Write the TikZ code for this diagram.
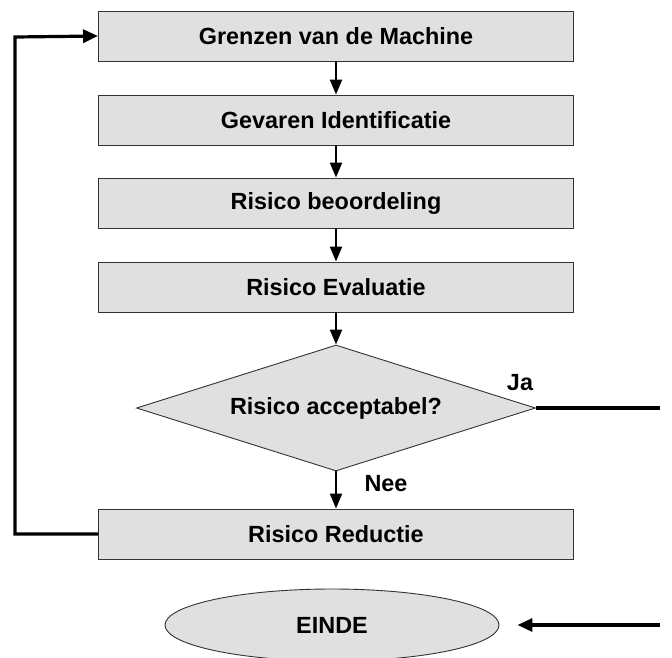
\documentclass[tikz,border=0pt]{standalone}
\usepackage{fontspec}
\setmainfont{Liberation Sans}
\usetikzlibrary{arrows.meta,shapes.geometric}
\definecolor{boxgray}{RGB}{224,224,224}
\begin{document}
\begin{tikzpicture}[x=1pt,y=-1pt,
  txt/.style={font=\bfseries\fontsize{23.4}{27}\selectfont},
  stepbox/.style={txt,draw=black!80,line width=0.9pt,fill=boxgray,minimum width=475pt,minimum height=50pt,inner sep=0pt},
  decide/.style={txt,diamond,draw=black!80,line width=0.9pt,fill=boxgray,minimum width=399pt,minimum height=126pt,inner sep=0pt,aspect=3.17},
  endnode/.style={txt,ellipse,draw=black!80,line width=0.9pt,fill=boxgray,minimum width=334pt,minimum height=72pt,inner sep=0pt},
  lbl/.style={txt},
  flow/.style={line width=2.2pt,-{Triangle[length=15pt,width=12pt]}},
  back/.style={line width=3.2pt,-{Triangle[length=15pt,width=13pt]}},
  plain/.style={line width=3.3pt}]
\useasboundingbox (0,0) rectangle (672,657);
\node[stepbox] (b1) at (336,36) {Grenzen van de Machine};
\node[stepbox] (b2) at (336,120) {Gevaren Identificatie};
\node[stepbox] (b3) at (336,203) {Risico beoordeling};
\node[stepbox] (b4) at (336,287) {Risico Evaluatie};
\node[decide] (d) at (336,408) {Risico acceptabel?};
\node[stepbox] (b5) at (336,534) {Risico Reductie};
\node[endnode] (e) at (332,625) {EINDE};
\coordinate (ja) at (660,408);
\coordinate (in) at (660,625);
\coordinate (c1) at (15,534);
\coordinate (c2) at (15,37);
\node[lbl] (lja) at (520,383) {Ja};
\node[lbl] (lnee) at (386,484) {Nee};
\draw[flow] (b1) -- (b2);
\draw[flow] (b2) -- (b3);
\draw[flow] (b3) -- (b4);
\draw[flow] (b4) -- (d);
\draw[flow] (d) -- (b5);
\draw[plain] (d.east) -- (ja);
\draw[back,shorten >=18pt] (in) -- (e);
\draw[back] (b5.west) -- (c1) -- (c2) -- (b1.west);
\end{tikzpicture}
\end{document}
